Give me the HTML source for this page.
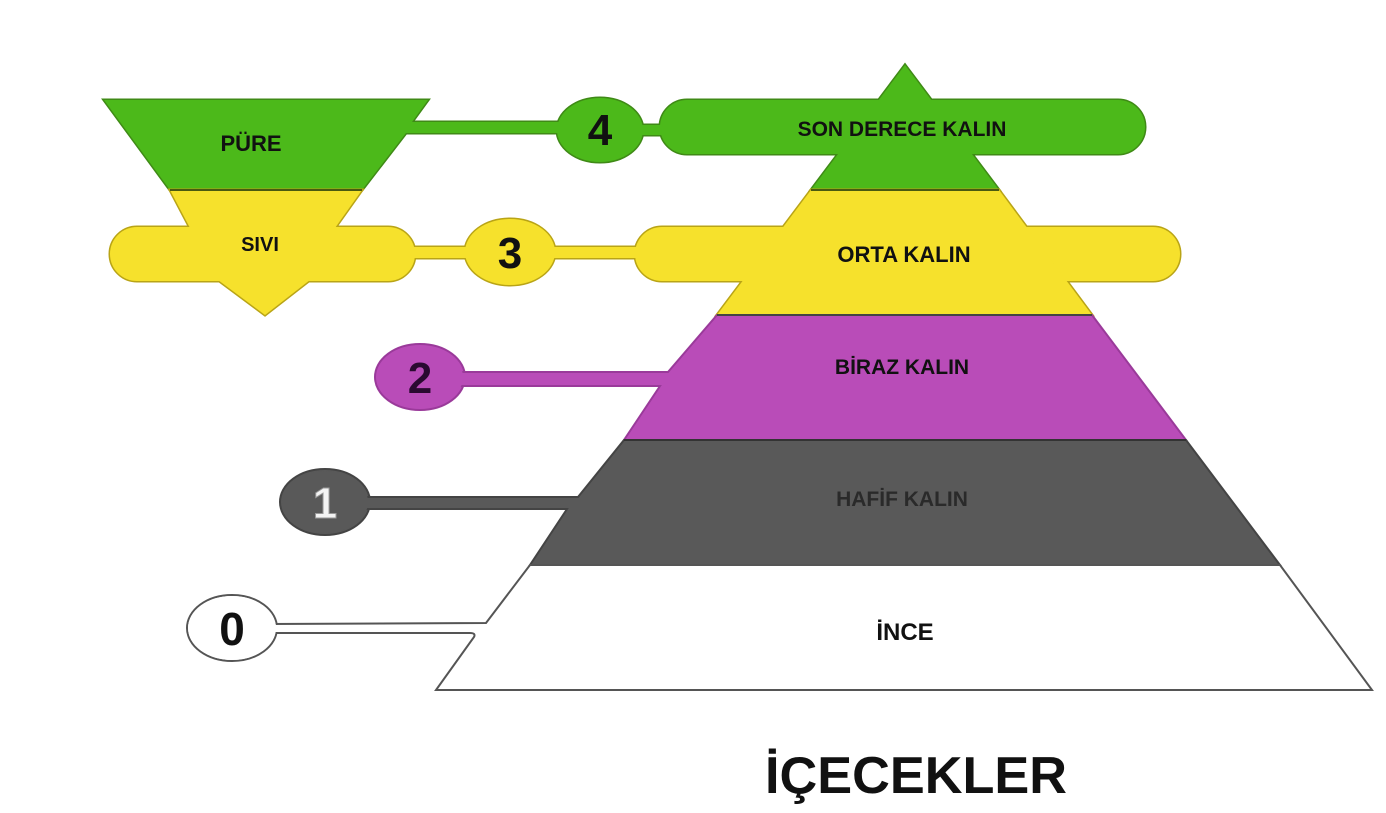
<!DOCTYPE html>
<html><head><meta charset="utf-8"><style>
html,body{margin:0;padding:0;background:#fff;}
svg{display:block;}
text{font-family:"Liberation Sans",Arial,sans-serif;font-weight:bold;fill:#111;}
</style></head><body>
<svg width="1386" height="813" viewBox="0 0 1386 813" xmlns="http://www.w3.org/2000/svg">
<defs>
<g id="green">
  <polygon points="104,100 428,100 412,122 560,122 560,133 406,133 362,190 170,190"/>
  <polygon points="905,65 999,190 811,190"/>
  <rect x="660" y="100" width="485" height="54" rx="27"/>
  <ellipse cx="600" cy="130" rx="43" ry="32"/>
  <rect x="630" y="125" width="60" height="10"/>
</g>
<g id="yellow">
  <polygon points="170,190 362,190 335,228 190,228"/>
  <rect x="110" y="227" width="305" height="54" rx="27"/>
  <polygon points="218,280 310,280 265,315"/>
  <rect x="400" y="247" width="260" height="11"/>
  <ellipse cx="510" cy="252" rx="45" ry="33"/>
  <rect x="635" y="227" width="545" height="54" rx="27"/>
  <polygon points="811,190 999,190 1092,315 717,315"/>
</g>
</defs>
<g fill="#3f9a16" stroke="#3f8a16" stroke-width="3"><use href="#green"/></g>
<g fill="#4cb91a"><use href="#green"/></g>
<g fill="#c9b21a" stroke="#b9a416" stroke-width="3"><use href="#yellow"/></g>
<g fill="#f6e12c"><use href="#yellow"/></g>
<line x1="170" y1="190" x2="362" y2="190" stroke="#4a5a10" stroke-width="2"/>
<line x1="811" y1="190" x2="999" y2="190" stroke="#4a5a10" stroke-width="2"/>
<g fill="#b94cb8" stroke="#9a3a9a" stroke-width="2">
  <ellipse cx="420" cy="377" rx="45" ry="33"/>
  <path d="M717,315 L1092,315 L1186,440 L624,440 L660,386 L460,386 L460,372 L668,372 Z"/>
</g>
<ellipse cx="420" cy="377" rx="43" ry="31" fill="#b94cb8"/>
<rect x="455" y="373" width="20" height="12" fill="#b94cb8"/>
<line x1="717" y1="315" x2="1092" y2="315" stroke="#444" stroke-width="2"/>
<g fill="#595959" stroke="#444" stroke-width="2">
  <ellipse cx="325" cy="502" rx="45" ry="33"/>
  <path d="M624,440 L1186,440 L1280,565 L530,565 L567,509 L365,509 L365,497 L578,497 Z"/>
</g>
<ellipse cx="325" cy="502" rx="43" ry="31" fill="#595959"/>
<rect x="360" y="498" width="20" height="10" fill="#595959"/>
<line x1="624" y1="440" x2="1186" y2="440" stroke="#333" stroke-width="2"/>
<line x1="530" y1="565" x2="1280" y2="565" stroke="#333" stroke-width="2"/>
<g fill="#fff" stroke="#555" stroke-width="2">
  <path d="M530,565 L1280,565 L1372,690 L436,690 L474,637 Q476,633 470,633 L270,633 L270,624 L486,623 Z"/>
  <ellipse cx="232" cy="628" rx="45" ry="33"/>
</g>
<ellipse cx="232" cy="628" rx="44" ry="32" fill="#fff"/>
<rect x="265" y="625" width="15" height="7" fill="#fff"/>
<text x="251" y="151" font-size="22" text-anchor="middle">PÜRE</text>
<text x="260" y="251" font-size="20" text-anchor="middle">SIVI</text>
<text x="902" y="136" font-size="21" text-anchor="middle">SON DERECE KALIN</text>
<text x="904" y="262" font-size="22" text-anchor="middle">ORTA KALIN</text>
<text x="902" y="374" font-size="21" text-anchor="middle">BİRAZ KALIN</text>
<text x="902" y="506" font-size="21" text-anchor="middle" style="fill:#2a2a2a">HAFİF KALIN</text>
<text x="905" y="640" font-size="24" text-anchor="middle">İNCE</text>
<text x="600" y="145" font-size="44" text-anchor="middle">4</text>
<text x="510" y="268" font-size="44" text-anchor="middle">3</text>
<text x="420" y="393" font-size="44" text-anchor="middle" style="fill:#2a0a30">2</text>
<text x="325" y="518" font-size="44" text-anchor="middle" style="fill:#f4f4f4;stroke:#999;stroke-width:1">1</text>
<text x="232" y="645" font-size="46" text-anchor="middle">0</text>
<text x="916" y="793" font-size="52" text-anchor="middle" textLength="302" lengthAdjust="spacingAndGlyphs">İÇECEKLER</text>
</svg>
</body></html>
